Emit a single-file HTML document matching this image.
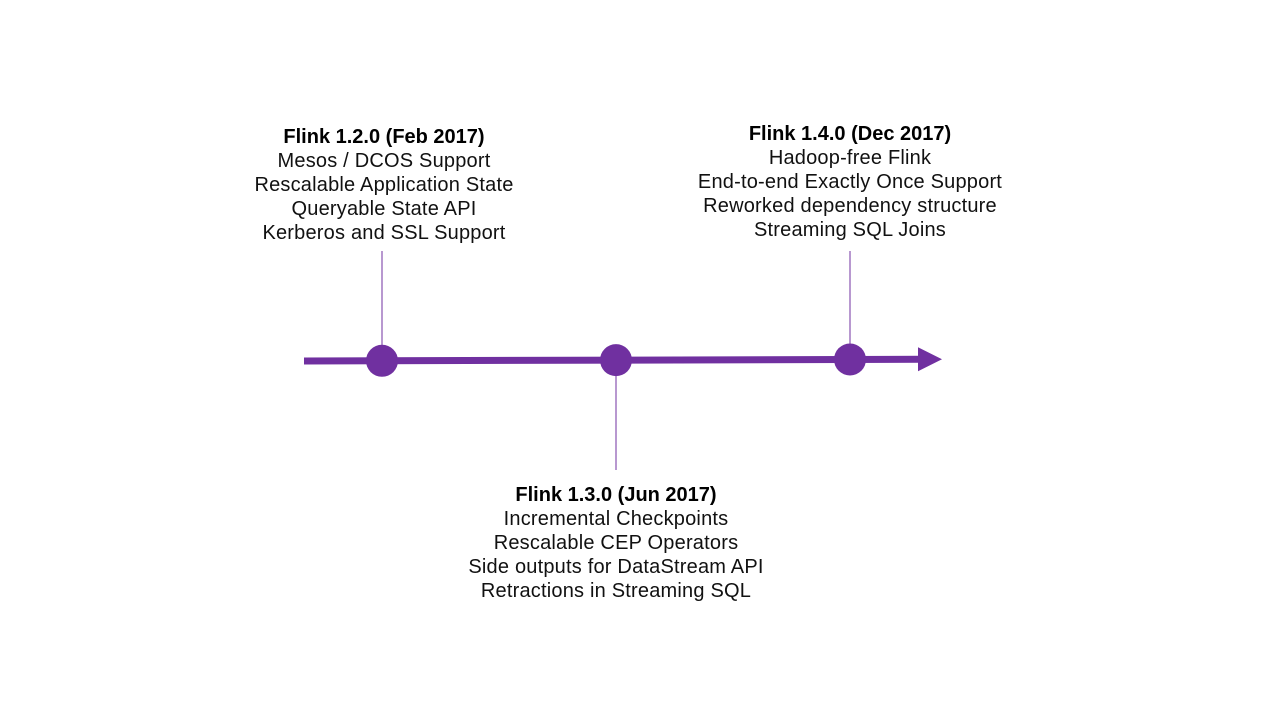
<!DOCTYPE html>
<html><head><meta charset="utf-8"><style>
body{margin:0;width:1280px;height:720px;background:#fff;overflow:hidden;font-family:"Liberation Sans",sans-serif;}
svg{position:absolute;left:0;top:0}
</style></head><body>
<svg width="1280" height="720" id="chart"></svg>
<script>
const releases=["Flink 1.2.0 (Feb 2017)","Flink 1.3.0 (Jun 2017)","Flink 1.4.0 (Dec 2017)"];
const sides=["top","bottom","top"];
const features=[
["Mesos / DCOS Support","Rescalable Application State","Queryable State API","Kerberos and SSL Support"],
["Incremental Checkpoints","Rescalable CEP Operators","Side outputs for DataStream API","Retractions in Streaming SQL"],
["Hadoop-free Flink","End-to-end Exactly Once Support","Reworked dependency structure","Streaming SQL Joins"]];
const NS="http://www.w3.org/2000/svg",svg=document.getElementById('chart');
const C="#7030a0";
function x(i){return 382+i*234;}
function y(px){return 361-(px-304)*0.0028;}
function mk(t,a,p){const e=document.createElementNS(NS,t);for(const k in a)e.setAttribute(k,a[k]);(p||svg).appendChild(e);return e;}
const axis=mk('line',{x1:304,y1:y(304),x2:925,y2:y(925),stroke:C,'stroke-width':7});


const ar=mk('polygon',{points:`918,${y(918)-12} 942,${y(942)} 918,${y(918)+12}`,fill:C});


releases.forEach((r,i)=>{
  const cx=x(i),cy=y(cx),top=sides[i]==="top";
  const st=mk('line',{x1:cx,x2:cx,y1:top?251:cy,y2:top?cy:470,stroke:C,'stroke-width':1});
  
  
  const c=mk('circle',{cx:cx,cy:cy,r:16,fill:C});
  
  
  const ty=top?(i===0?143:140):501;
  const tcx=i===0?384:cx;
  const g=mk('g',{});
  
  
  const t=mk('text',{x:tcx,y:ty,'text-anchor':'middle','font-size':20,'font-weight':'bold',fill:'#000'},g);
  t.textContent=r;
  features[i].forEach((f,j)=>{
    const ft=mk('text',{x:tcx,y:ty+24*(j+1),'text-anchor':'middle','font-size':20,'letter-spacing':0.2,fill:'#111'},g);
    ft.textContent=f;
  });
});
</script>
</body></html>
